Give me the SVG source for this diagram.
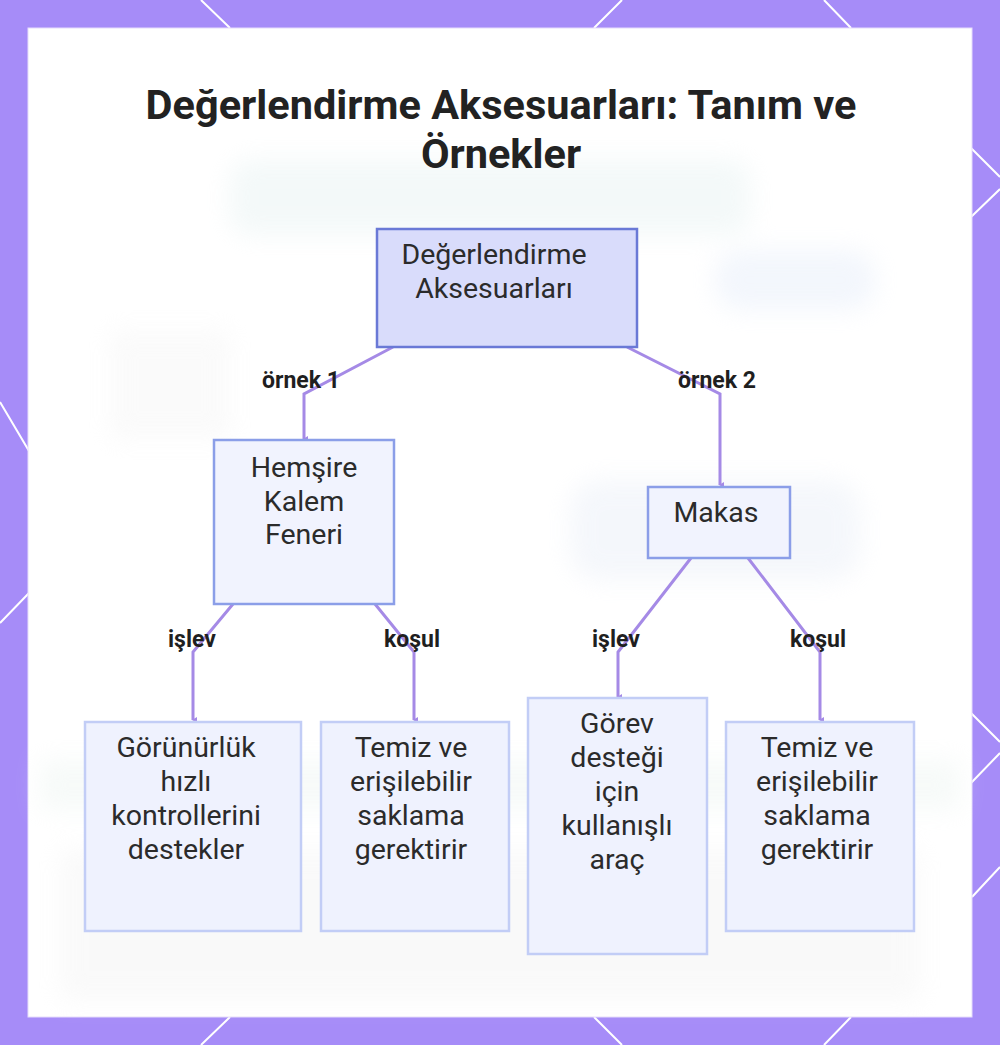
<svg xmlns="http://www.w3.org/2000/svg" width="1000" height="1045" viewBox="0 0 1000 1045">
<defs>
<filter id="blur" x="-50%" y="-50%" width="200%" height="200%"><feGaussianBlur stdDeviation="12"/></filter>
<marker id="arr" markerWidth="8" markerHeight="8" refX="4" refY="6" orient="auto" markerUnits="userSpaceOnUse">
<path d="M1,2 L4,7 L7,2 Z" fill="#a58ae6"/>
</marker>
<style>
.border{fill:#a68cf8}
.deco{stroke:#ffffff;stroke-width:2;fill:none}
.title{font-family:Roboto,"Noto Sans",sans-serif;font-weight:700;font-size:41.5px;fill:#222222;text-anchor:middle}
.root{fill:#d9dcfb;stroke:#6a79d6;stroke-width:2.5}
.mid{fill:#f1f3fe;stroke:#8b9ee8;stroke-width:2.5}
.leaf{fill:#eff2fe;stroke:#c2cdf6;stroke-width:2.5}
.nt{font-family:Roboto,"Noto Sans",sans-serif;font-size:28.5px;fill:#2b2b2b;text-anchor:middle}
.edge{stroke:#a58ae6;stroke-width:3;fill:none;marker-end:url(#arr)}
.lbl{font-family:Roboto,"Noto Sans",sans-serif;font-weight:700;font-size:23px;fill:#1f1f1f;text-anchor:middle}
</style>
</defs>
<rect class="border" x="0" y="0" width="1000" height="1045"/>
<g class="deco">
<path d="M201,0 L230,28 M622,0 L594,28 M824,0 L851,28"/>
<path d="M230,1017 L201,1045 M594,1017 L622,1045 M851,1017 L824,1045"/>
<path d="M0,402 L29,451 M29,593 L0,623"/>
<path d="M971,148 L1000,177 M971,217 L1000,189 M971,713 L1000,742 M971,783 L1000,753 M972,897 L1000,867"/>
</g>
<rect x="28" y="28" width="944" height="989" fill="#ffffff" stroke="#e6dcfb" stroke-width="1"/>
<g filter="url(#blur)" opacity="0.35">
<rect x="230" y="160" width="520" height="75" rx="20" fill="#dfeeee"/>
<rect x="715" y="250" width="160" height="60" rx="25" fill="#dde7f8"/>
<rect x="570" y="480" width="290" height="100" rx="30" fill="#e2e9f5"/>
<rect x="40" y="760" width="920" height="50" fill="#e8f2ee"/>
<rect x="60" y="850" width="860" height="150" fill="#f0f0f0"/>
<rect x="110" y="330" width="120" height="110" fill="#f2f2f2"/>
</g>
<g id="title">
<text class="title" x="501" y="119">Değerlendirme Aksesuarları: Tanım ve</text>
<text class="title" x="501" y="168">Örnekler</text>
</g>
<g id="connectors">
<path class="edge" d="M393,347 L304,394 L304,439"/>
<path class="edge" d="M627,347 L720,394 L720,485"/>
<path class="edge" d="M233,604 L193,652 L193,720"/>
<path class="edge" d="M375,604 L414,652 L414,720"/>
<path class="edge" d="M691,558 L618,652 L618,697"/>
<path class="edge" d="M748,558 L820,652 L820,720"/>
</g>
<g id="labels">
<text class="lbl" x="301" y="388">örnek 1</text>
<text class="lbl" x="717" y="388">örnek 2</text>
<text class="lbl" x="192" y="647">işlev</text>
<text class="lbl" x="412" y="647">koşul</text>
<text class="lbl" x="616" y="647">işlev</text>
<text class="lbl" x="818" y="647">koşul</text>
</g>
<g id="node-root">
<rect class="root" x="377" y="229" width="260" height="118"/>
<text class="nt" x="494" y="264">Değerlendirme</text>
<text class="nt" x="494" y="298">Aksesuarları</text>
</g>
<g id="node-hemsire">
<rect class="mid" x="214" y="440" width="180" height="164"/>
<text class="nt" x="304" y="477">Hemşire</text>
<text class="nt" x="304" y="511">Kalem</text>
<text class="nt" x="304" y="544">Feneri</text>
</g>
<g id="node-makas">
<rect class="mid" x="648" y="487" width="142" height="71"/>
<text class="nt" x="716" y="522">Makas</text>
</g>
<g id="node-gorunurluk">
<rect class="leaf" x="85" y="722" width="216" height="209"/>
<text class="nt" x="186" y="757">Görünürlük</text>
<text class="nt" x="186" y="791">hızlı</text>
<text class="nt" x="186" y="825">kontrollerini</text>
<text class="nt" x="186" y="859">destekler</text>
</g>
<g id="node-temiz1">
<rect class="leaf" x="321" y="722" width="188" height="209"/>
<text class="nt" x="411" y="757">Temiz ve</text>
<text class="nt" x="411" y="791">erişilebilir</text>
<text class="nt" x="411" y="825">saklama</text>
<text class="nt" x="411" y="859">gerektirir</text>
</g>
<g id="node-gorev">
<rect class="leaf" x="528" y="698" width="179" height="256"/>
<text class="nt" x="617" y="733">Görev</text>
<text class="nt" x="617" y="767">desteği</text>
<text class="nt" x="617" y="801">için</text>
<text class="nt" x="617" y="835">kullanışlı</text>
<text class="nt" x="617" y="869">araç</text>
</g>
<g id="node-temiz2">
<rect class="leaf" x="726" y="722" width="188" height="209"/>
<text class="nt" x="817" y="757">Temiz ve</text>
<text class="nt" x="817" y="791">erişilebilir</text>
<text class="nt" x="817" y="825">saklama</text>
<text class="nt" x="817" y="859">gerektirir</text>
</g>
</svg>
